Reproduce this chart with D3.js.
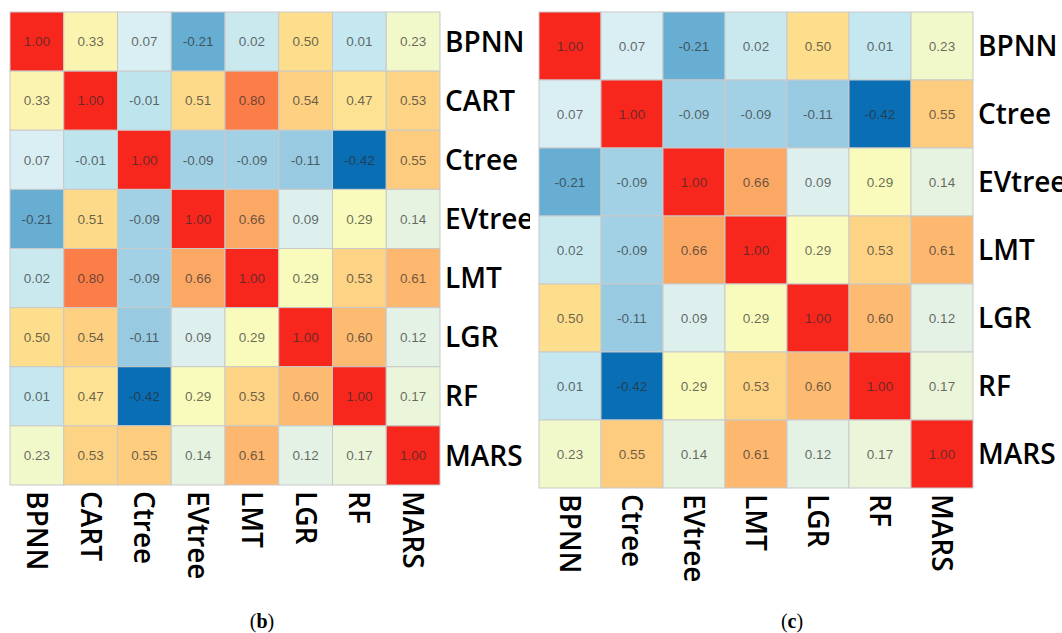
<!DOCTYPE html>
<html>
<head>
<meta charset="utf-8">
<script src="https://cdn.jsdelivr.net/npm/d3@7"></script>
<style>
  body { margin: 0; background: #fff; }
  svg { display: block; }
</style>
</head>
<body>
<script>
// model names for the two panels
const modelsB = ["BPNN", "CART", "Ctree", "EVtree", "LMT", "LGR", "RF", "MARS"];
const modelsC = ["BPNN", "Ctree", "EVtree", "LMT", "LGR", "RF", "MARS"];

// correlation rows, panel (b)
const rowBPNN   = [1.00, 0.33, 0.07, -0.21, 0.02, 0.50, 0.01, 0.23];
const rowCART   = [0.33, 1.00, -0.01, 0.51, 0.80, 0.54, 0.47, 0.53];
const rowCtree  = [0.07, -0.01, 1.00, -0.09, -0.09, -0.11, -0.42, 0.55];
const rowEVtree = [-0.21, 0.51, -0.09, 1.00, 0.66, 0.09, 0.29, 0.14];
const rowLMT    = [0.02, 0.80, -0.09, 0.66, 1.00, 0.29, 0.53, 0.61];
const rowLGR    = [0.50, 0.54, -0.11, 0.09, 0.29, 1.00, 0.60, 0.12];
const rowRF     = [0.01, 0.47, -0.42, 0.29, 0.53, 0.60, 1.00, 0.17];
const rowMARS   = [0.23, 0.53, 0.55, 0.14, 0.61, 0.12, 0.17, 1.00];
const matrixB = [rowBPNN, rowCART, rowCtree, rowEVtree, rowLMT, rowLGR, rowRF, rowMARS];

// panel (c) is the same matrix without CART
const dropIdx = modelsB.indexOf("CART");
const matrixC = matrixB.filter((r, i) => i !== dropIdx)
                       .map(r => r.filter((v, j) => j !== dropIdx));

// colour stops (blue -> yellow -> red)
const colorStops = [-0.42, -0.21, -0.09, 0.0, 0.07, 0.14, 0.29, 0.33, 0.5, 0.6, 0.8, 1.0];
const colorRange = ["#0a6eb4", "#67aed2", "#a2d1e5", "#c2e6ee", "#daeff3", "#e6f3e0",
                    "#f8fbbb", "#fbf4b1", "#fdde8d", "#fdba71", "#fb7e48", "#f8271e"];

const captions = ["b", "c"];

const W = 1062, H = 633;
const svg = d3.select("body").append("svg")
    .attr("width", W)
    .attr("height", H);

const color = d3.scaleLinear().domain(colorStops).range(colorRange).clamp(true);

svg.append("clipPath").attr("id", "clipB")
  .append("rect").attr("x", 0).attr("y", 0).attr("width", 530).attr("height", H);

function drawPanel(names, matrix, box, clipId, caption) {
    const g = svg.append("g");
    if (clipId) g.attr("clip-path", `url(#${clipId})`);

    const x = d3.scaleBand().domain(names).range([box.x0, box.x1]);
    const y = d3.scaleBand().domain(names).range([box.y0, box.y1]);

    const cells = [];
    matrix.forEach((row, i) => row.forEach((v, j) => {
        cells.push({ r: names[i], c: names[j], v: v });
    }));

    g.selectAll("rect.cell")
        .data(cells)
        .enter().append("rect")
        .attr("class", "cell")
        .attr("x", d => x(d.c))
        .attr("y", d => y(d.r))
        .attr("width", x.bandwidth())
        .attr("height", y.bandwidth())
        .style("fill", d => color(d.v))
        .style("stroke", "#c9c9c9")
        .style("stroke-width", 1);

    g.selectAll("text.val")
        .data(cells)
        .enter().append("text")
        .attr("class", "val")
        .attr("x", d => x(d.c) + x.bandwidth() / 2)
        .attr("y", d => y(d.r) + y.bandwidth() / 2)
        .attr("dy", "0.35em")
        .attr("text-anchor", "middle")
        .text(d => d3.format(".2f")(d.v).replace("−", "-"))
        .style("font-family", "'Liberation Sans', Arial, sans-serif")
        .style("font-size", "13.5px")
        .style("fill", "#2a2a2a")
        .style("fill-opacity", 0.7);

    // row labels on the right
    g.selectAll("text.rowlab")
        .data(names)
        .enter().append("text")
        .attr("class", "rowlab")
        .attr("x", box.x1 + 5)
        .attr("y", d => y(d) + y.bandwidth() / 2)
        .attr("dy", "0.36em")
        .text(d => d)
        .style("font-family", "'Open Sans', 'Noto Sans', sans-serif")
        .style("font-size", "28px")
        .style("font-weight", 600)
        .style("fill", "#000");

    // column labels below, rotated
    g.selectAll("text.collab")
        .data(names)
        .enter().append("text")
        .attr("class", "collab")
        .attr("transform", d => `translate(${x(d) + x.bandwidth() / 2},${box.y1 + 6}) rotate(90)`)
        .attr("dy", "0.36em")
        .text(d => d)
        .style("font-family", "'Open Sans', 'Noto Sans', sans-serif")
        .style("font-size", "28px")
        .style("font-weight", 600)
        .style("fill", "#000");

    const cap = svg.append("text")
        .attr("x", box.cap)
        .attr("y", 628)
        .attr("text-anchor", "middle")
        .style("font-family", "'Liberation Serif', 'DejaVu Serif', serif")
        .style("font-size", "20px")
        .style("fill", "#000");
    cap.append("tspan").text("(");
    cap.append("tspan").style("font-weight", "bold").text(caption);
    cap.append("tspan").text(")");
}

drawPanel(modelsB, matrixB, { x0: 10, x1: 440, y0: 12, y1: 485, cap: 262 }, "clipB", captions[0]);
drawPanel(modelsC, matrixC, { x0: 539, x1: 973, y0: 12, y1: 488, cap: 792 }, null, captions[1]);
</script>
</body>
</html>
